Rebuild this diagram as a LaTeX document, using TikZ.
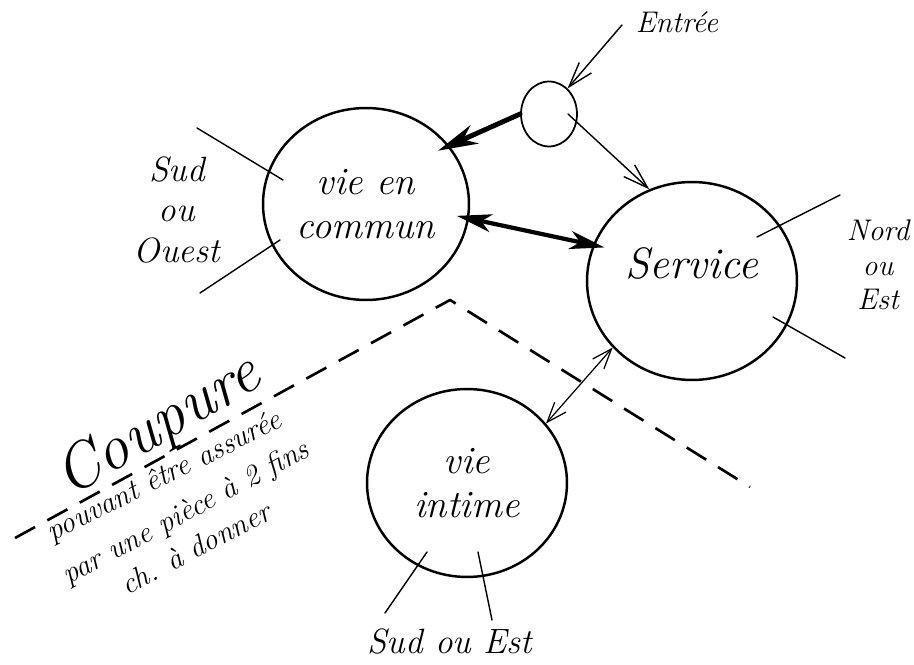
\documentclass[tikz,border=0pt]{standalone}
\usepackage{fontspec}
\usetikzlibrary{arrows.meta,shapes.geometric}
\newcommand{\handsize}[1]{\fontsize{#1}{1.15\dimexpr#1pt\relax}\selectfont\itshape}
\begin{document}
\begin{tikzpicture}[x=0.02cm, y=-0.02cm, line cap=round, line join=round,
  room/.style={draw, ellipse, line width=1.4pt, inner sep=0pt, align=center},
  orient/.style={line width=0.8pt},
  barb/.style={-{Straight Barb[length=5mm,width=3.2mm]}, line width=0.8pt},
  fatarrow/.style={-{Stealth[length=8mm,width=4mm,inset=2.5mm]}, line width=2.8pt},
  twoway/.style={{Stealth[length=7mm,width=3.6mm,inset=2mm]}-{Stealth[length=7mm,width=3.6mm,inset=2mm]}, line width=2.4pt},
  thintwoway/.style={{Straight Barb[length=4mm,width=3mm]}-{Straight Barb[length=4mm,width=3mm]}, line width=0.7pt},
  cutline/.style={line width=1.5pt, line cap=butt, dash pattern=on 13pt off 8pt},
  note/.style={font={\handsize{17}\addfontfeatures{LetterSpace=12}}, anchor=base}]
  \useasboundingbox (0,0) rectangle (914,665);
  % the three zones and the entrance
  \node[room, minimum width=41.2mm, minimum height=38.4mm, font=\handsize{22}] (commun) at (366,204) {vie en\\commun};
  \node[room, minimum width=42mm, minimum height=39.6mm] (service) at (692,281) {};
  \node[font=\handsize{25}] (servicename) at ([yshift=3.6mm]service.center) {Service};
  \node[room, minimum width=40mm, minimum height=37.6mm, font=\handsize{22}] (intime) at (467,483) {vie\\intime};
  \node[room, minimum width=11.2mm, minimum height=13mm, line width=1pt] (hall) at (549,114) {};
  \node[font=\handsize{17}] (entree) at (677,22) {Entrée};
  \coordinate (entreefrom) at (622,25);
  % circulation
  \draw[barb] (entreefrom) -- (hall.54);
  \draw[fatarrow, shorten >=-2.5mm] (hall.west) -- (commun.35);
  \draw[barb] ([xshift=3.8mm]hall.center) -- (service.115);
  \draw[twoway, shorten <=-2.5mm, shorten >=-2.4mm] (commun.-8) -- (service.160);
  \draw[thintwoway] (intime.37) -- (service.-140);
  % orientations
  \draw[orient] (197,128) -- (283,180);
  \draw[orient] (200,293) -- (280,240);
  \draw[orient] (757,237) -- (840,195);
  \draw[orient] (773,317) -- (845,358);
  \draw[orient] (427,552) -- (385,613);
  \draw[orient] (478,552) -- (492,620);
  \node[font=\handsize{20}, align=center] (ouest) at (177,210) {Sud\\ou\\Ouest};
  \node[font=\handsize{17}, align=center] (est) at (878,265) {Nord\\ou\\Est};
  \node[font=\handsize{20}] (sudest) at (450,642) {Sud ou Est};
  % the cut, with its note under the dashes
  \draw[cutline] (15,538) -- (450,300) -- (750,487);
  \node[font=\handsize{36}, anchor=base, rotate=30] (coupure) at (167,441) {Coupure};
  \node[note, rotate=26.5] (ligne1) at (168,484) {pouvant être assurée};
  \node[note, rotate=28] (ligne2) at (190,520) {par une pièce à 2 fins};
  \node[note, rotate=28] (ligne3) at (200,557) {ch. à donner};
\end{tikzpicture}
\end{document}
